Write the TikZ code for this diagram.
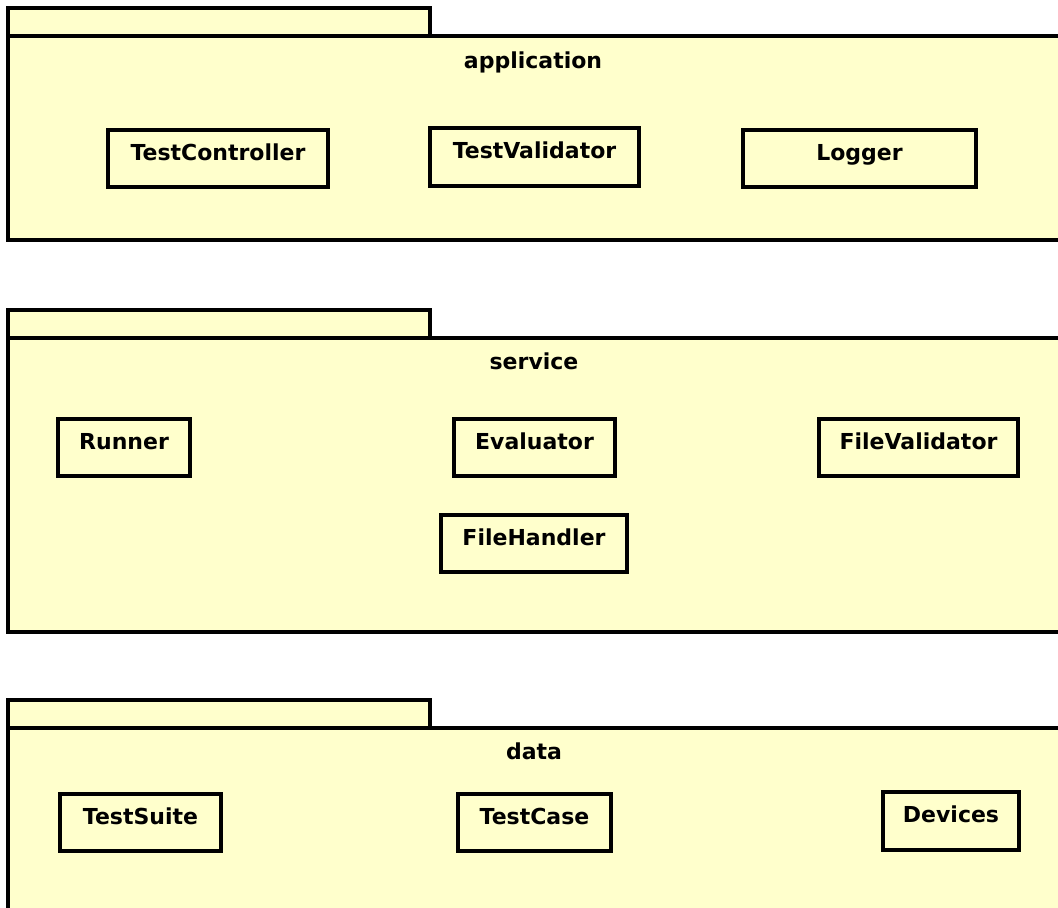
\documentclass[tikz,border=0pt]{standalone}
\usepackage{fontspec}
\setmainfont{DejaVu Sans}
\tikzset{
  x=1pt, y=-1pt,
  pkg/.style={draw=black, line width=4pt, fill=umlyellow},
  cls/.style={draw=black, line width=4pt, fill=umlyellow, inner sep=0pt},
  lbl/.style={font=\bfseries\fontsize{22}{26}\selectfont, inner sep=0pt, anchor=base},
}
\definecolor{umlyellow}{HTML}{FFFFCC}
\newcommand{\umlclass}[6]{% name, x1, y1, x2, y2, text
  \node[cls, minimum width={#4-#2}, minimum height={#5-#3}] (#1) at ({(#2+#4)/2},{(#3+#5)/2}) {};
  \node[lbl] (#1-t) at ([yshift=-32pt]#1.north) {#6};
}
\begin{document}
\begin{tikzpicture}
\useasboundingbox (0,0) rectangle (1058,908);
\begin{scope}
\clip (0,0) rectangle (1058,908);
% application
\draw[pkg] (8,8) rectangle (430,36);
\draw[pkg] (8,36) rectangle (1075,240);
\node[lbl] (app) at (533,68) {application};
\umlclass{tc}{108}{130}{328}{187}{TestController}
\umlclass{tv}{430}{128}{639}{186}{TestValidator}
\umlclass{lg}{743}{130}{976}{187}{Logger}
% service
\draw[pkg] (8,310) rectangle (430,338);
\draw[pkg] (8,338) rectangle (1075,632);
\node[lbl] (svc) at (534,369) {service};
\umlclass{rn}{58}{419}{190}{476}{Runner}
\umlclass{ev}{454}{419}{615}{476}{Evaluator}
\umlclass{fv}{819}{419}{1018}{476}{FileValidator}
\umlclass{fh}{441}{515}{627}{572}{FileHandler}
% data
\draw[pkg] (8,700) rectangle (430,728);
\draw[pkg] (8,728) rectangle (1075,930);
\node[lbl] (dat) at (534,759) {data};
\umlclass{ts}{60}{794}{221}{851}{TestSuite}
\umlclass{tcase}{458}{794}{611}{851}{TestCase}
\umlclass{dv}{883}{792}{1019}{850}{Devices}
\end{scope}
\end{tikzpicture}
\end{document}
